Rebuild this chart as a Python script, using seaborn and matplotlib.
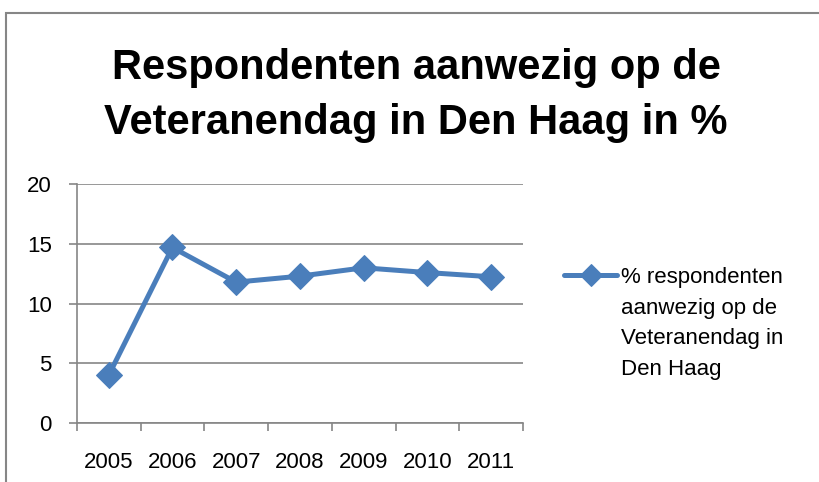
import matplotlib
matplotlib.use("Agg")
import matplotlib.pyplot as plt
from matplotlib.patches import Rectangle
from matplotlib.offsetbox import HPacker
import seaborn as sns
import pandas as pd

years = ["2005", "2006", "2007", "2008", "2009", "2010", "2011"]
values = [4.0, 14.7, 11.8, 12.3, 13.0, 12.6, 12.25]
series_name = "% respondenten\naanwezig op de\nVeteranendag in\nDen Haag"
title = "Respondenten aanwezig op de\nVeteranendag in Den Haag in %"
yticks = [0, 5, 10, 15, 20]

sns.set_theme(style="white")
plt.rcParams["font.family"] = ["Liberation Sans", "DejaVu Sans"]
plt.rcParams["text.color"] = "black"
plt.rcParams["xtick.color"] = "black"
plt.rcParams["ytick.color"] = "black"

df = pd.DataFrame({"x": range(len(years)), "y": values, "s": series_name})

fig = plt.figure(figsize=(8.19, 4.82), dpi=100)
ax = fig.add_axes([0.0937, 0.122, 0.545, 0.496])
color = "#4A7EBB"
gray = "#868686"
sns.lineplot(data=df, x="x", y="y", hue="s", palette=[color], marker="D",
             markersize=13, linewidth=3.6, markeredgecolor=color, ax=ax, legend=True)

ax.set_xlim(-0.5, len(years) - 0.5)
ax.set_ylim(0, 20)
ax.set_yticks(yticks)
ax.set_yticklabels([str(v) for v in yticks], fontsize=16)
ax.set_xticks(range(len(years)))
ax.set_xticklabels(years, fontsize=16)
ax.set_xticks([i - 0.5 for i in range(len(years) + 1)], minor=True)
ax.tick_params(axis="x", which="major", length=0, pad=21)
ax.tick_params(axis="x", which="minor", length=6, width=1.2, color=gray, direction="out", bottom=True)
ax.tick_params(axis="y", length=6, width=1.2, color=gray, direction="out", left=True, pad=12)
ax.yaxis.grid(True, color=gray, linewidth=1.2)
ax.set_axisbelow(True)
for s in ["top", "right"]:
    ax.spines[s].set_visible(False)
for s in ["left", "bottom"]:
    ax.spines[s].set_color(gray)
    ax.spines[s].set_linewidth(1.2)
ax.set_xlabel("")
ax.set_ylabel("")

leg = ax.legend(loc="upper left", bbox_to_anchor=(1.092, 0.653), frameon=False,
                fontsize=16, handlelength=2.4, handletextpad=0.15, labelspacing=0.3,
                borderaxespad=0, borderpad=0)
for t in leg.get_texts():
    t.set_linespacing(1.6)
for line in leg.get_lines():
    line.set_markersize(11)


def set_top(box):
    for c in box.get_children():
        if isinstance(c, HPacker):
            c.align = "top"
        if hasattr(c, "get_children"):
            set_top(c)


set_top(leg._legend_handle_box)

fig.text(0.508, 0.801, title, ha="center", va="center", fontsize=30, fontweight="bold",
         linespacing=1.48)

fig.patches.append(Rectangle((6 / 819, -0.1), 1.0, 1 - 13 / 482 + 0.1, transform=fig.transFigure,
                             fill=False, edgecolor=gray, linewidth=1.5))

fig.savefig("out.png", dpi=100)
